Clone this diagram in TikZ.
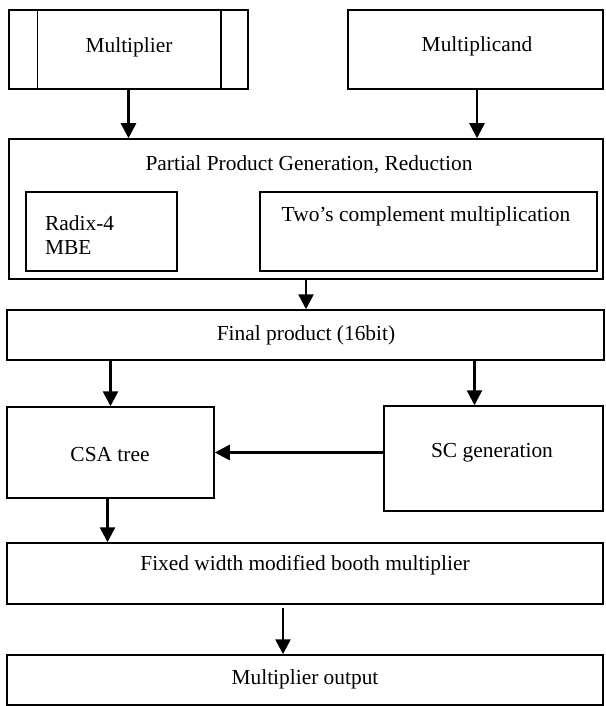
\documentclass[tikz,border=0pt]{standalone}
\usepackage{fontspec}
\setmainfont{Liberation Serif}
\usetikzlibrary{arrows.meta}
\begin{document}
\begin{tikzpicture}[x=1pt,y=-1pt,
  box/.style={draw, line width=1.5pt, inner sep=0pt, rectangle},
  txt/.style={inner sep=0pt, font=\fontsize{21.4}{24.5}\selectfont},
  arr/.style={line width=2.6pt, -{Triangle[length=15pt,width=15pt]}}]
\useasboundingbox (0,0) rectangle (605,706);
\fill[white] (0,0) rectangle (605,706);
% boxes
\node[box, minimum width=239pt, minimum height=79pt] (mult) at (128.5,49.5) {};
\node[box, minimum width=255pt, minimum height=79pt] (mcand) at (475.5,49.5) {};
\node[box, minimum width=594pt, minimum height=140pt] (pp) at (306,209) {};
\node[box, minimum width=151pt, minimum height=79pt] (radix) at (101.5,231.5) {};
\node[box, minimum width=337pt, minimum height=79pt] (twos) at (428.5,231.5) {};
\node[box, minimum width=597pt, minimum height=50pt] (fp) at (305.5,335) {};
\node[box, minimum width=207pt, minimum height=91pt] (csa) at (110.5,452.5) {};
\node[box, minimum width=219pt, minimum height=105pt] (sc) at (493.5,458.5) {};
\node[box, minimum width=596pt, minimum height=61pt] (fixed) at (305,573.5) {};
\node[box, minimum width=596pt, minimum height=50pt] (out) at (305,680) {};
% inner lines of the multiplier box
\draw[line width=1.5pt] ([xshift=29pt]mult.north west) -- ([xshift=29pt]mult.south west);
\draw[line width=1.5pt] ([xshift=-28pt]mult.north east) -- ([xshift=-28pt]mult.south east);
% texts
\node[txt] (multT) at (129,47) {Multiplier};
\node[txt] (mcandT) at (477,46) {Multiplicand};
\node[txt] (ppT) at (309,165) {Partial Product Generation, Reduction};
\node[txt, anchor=west, align=left] (radixT) at (45,235) {Radix-4\\MBE};
\node[txt] (twosT) at (426,216) {Two’s complement multiplication};
\node[txt] (fpT) at (306,335) {Final product (16bit)};
\node[txt] (csaT) at (110,455) {CSA tree};
\node[txt] (scT) at (492,453) {SC generation};
\node[txt] (fixedT) at (305,565) {Fixed width modified booth multiplier};
\node[txt] (outT) at (305,679) {Multiplier output};
% connectors
\draw[arr] (mult.south) -- (mult.south |- pp.north);
\draw[arr] ([xshift=1.5pt]mcand.south) -- ([xshift=1.5pt]mcand.south |- pp.north);
\draw[arr] (pp.south) -- (pp.south |- fp.north);
\draw[arr] (fp.south -| csa.north) -- (csa.north);
\draw[arr] ([xshift=-19pt]sc.north |- fp.south) -- ([xshift=-19pt]sc.north);
\draw[arr] (sc.west |- csa.east) -- (csa.east);
\draw[arr] ([xshift=-3pt]csa.south) -- ([xshift=-3pt]csa.south |- fixed.north);
\draw[arr] ([xshift=-22pt,yshift=-3pt]fixed.south) -- ([xshift=-22pt]out.north);
\end{tikzpicture}
\end{document}
